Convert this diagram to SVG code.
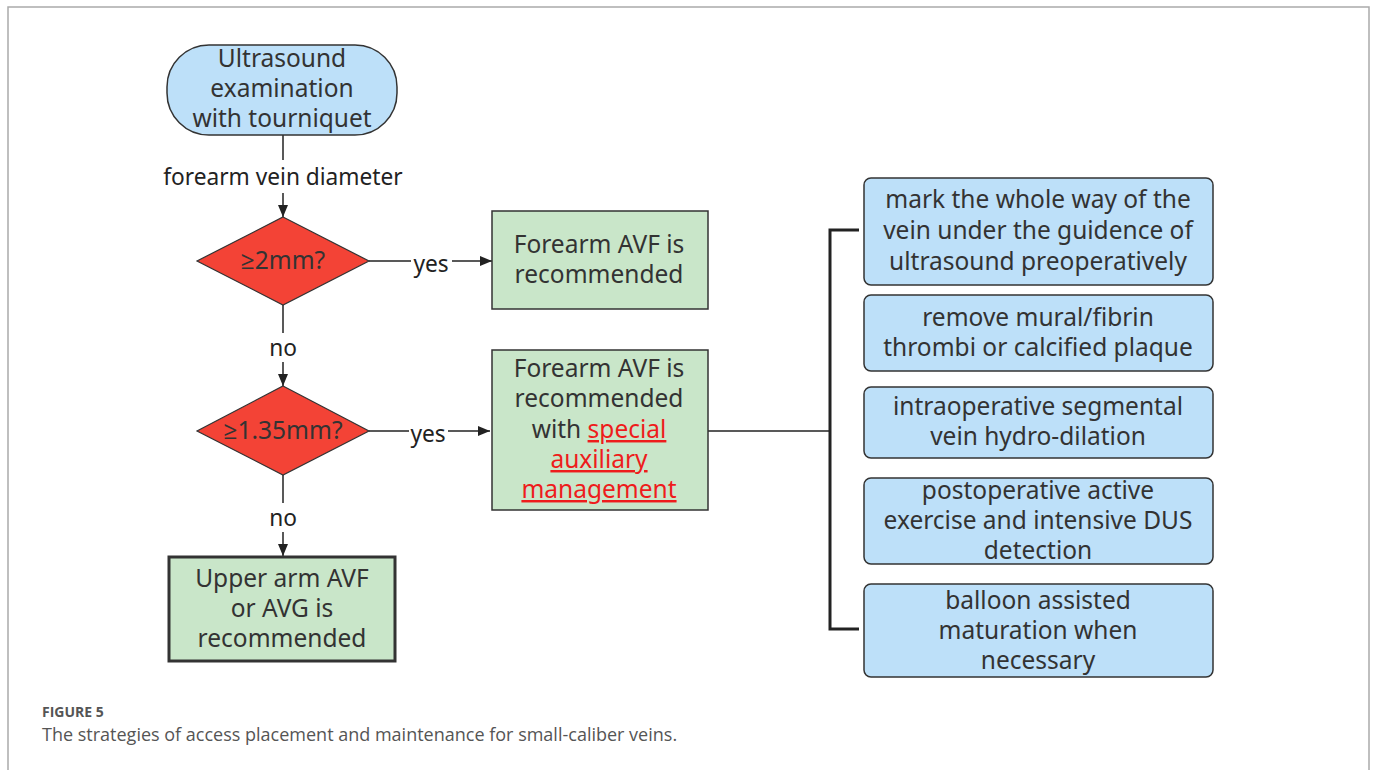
<svg xmlns="http://www.w3.org/2000/svg" width="1375" height="770" viewBox="0 0 1375 770">
<defs>
<marker id="arr" markerWidth="12" markerHeight="10" refX="12" refY="5" orient="auto" markerUnits="userSpaceOnUse">
<path d="M0,0 L12,5 L0,10 Z" fill="#222"/>
</marker>
<style>
.t{font-family:"Noto Sans","Open Sans","Liberation Sans",sans-serif;font-size:24.5px;fill:#333;text-anchor:middle}
.lbl{font-family:"Noto Sans","Open Sans","Liberation Sans",sans-serif;font-size:22.7px;fill:#222;text-anchor:middle}
.red{fill:#ee1c1c;text-decoration:underline}
.blue{fill:#bde0f9;stroke:#333;stroke-width:1.5}
.green{fill:#c9e6c9;stroke:#333;stroke-width:1.5}
.thick{stroke-width:3}
.dia{fill:#f34336;stroke:#333;stroke-width:1.2}
.ln{fill:none;stroke:#222;stroke-width:1.5}
.cap{font-family:"Open Sans","Lato","Liberation Sans",sans-serif;fill:#555}
</style>
</defs>
<rect x="0" y="0" width="1375" height="770" fill="#fff"/>
<path d="M8,780 V7 H1369 V780" fill="none" stroke="#aaa" stroke-width="1.5"/>

<g id="connectors">
<line class="ln" x1="283" y1="135" x2="283" y2="160"/>
<line class="ln" x1="283" y1="193" x2="283" y2="217" marker-end="url(#arr)"/>
<line class="ln" x1="369" y1="261" x2="411" y2="261"/>
<line class="ln" x1="452" y1="261" x2="492" y2="261" marker-end="url(#arr)"/>
<line class="ln" x1="283" y1="305" x2="283" y2="333"/>
<line class="ln" x1="283" y1="362" x2="283" y2="386" marker-end="url(#arr)"/>
<line class="ln" x1="369" y1="431" x2="409" y2="431"/>
<line class="ln" x1="448" y1="431" x2="490" y2="431" marker-end="url(#arr)"/>
<line class="ln" x1="283" y1="475" x2="283" y2="503"/>
<line class="ln" x1="283" y1="532" x2="283" y2="556" marker-end="url(#arr)"/>
<line class="ln" x1="708" y1="431" x2="830" y2="431"/>
<path d="M859,230 H830 V629 H859" fill="none" stroke="#222" stroke-width="3"/>
<text class="lbl" x="283" y="185">forearm vein diameter</text>
<text class="lbl" x="431" y="272">yes</text>
<text class="lbl" x="283" y="356">no</text>
<text class="lbl" x="428" y="442">yes</text>
<text class="lbl" x="283" y="526">no</text>
</g>

<g id="start">
<rect class="blue" x="167" y="45" width="230" height="90" rx="42" ry="42"/>
<text class="t" x="282" y="67">Ultrasound</text>
<text class="t" x="282" y="97">examination</text>
<text class="t" x="282" y="127">with tourniquet</text>
</g>

<g id="dec1">
<polygon class="dia" points="283,217 369,261 283,305 197,261"/>
<text class="t" x="283" y="269">≥2mm?</text>
</g>

<g id="res1">
<rect class="green" x="492" y="211" width="216" height="98"/>
<text class="t" x="599" y="253">Forearm AVF is</text>
<text class="t" x="599" y="283">recommended</text>
</g>

<g id="dec2">
<polygon class="dia" points="283,386 369,431 283,475 197,431"/>
<text class="t" x="283" y="439">≥1.35mm?</text>
</g>

<g id="res2">
<rect class="green" x="492" y="350" width="216" height="160"/>
<text class="t" x="599" y="377">Forearm AVF is</text>
<text class="t" x="599" y="407">recommended</text>
<text class="t" x="599" y="438">with <tspan class="red">special</tspan></text>
<text class="t red" x="599" y="468">auxiliary</text>
<text class="t red" x="599" y="498">management</text>
</g>

<g id="res3">
<rect class="green thick" x="169" y="557" width="226" height="104"/>
<text class="t" x="282" y="587">Upper arm AVF</text>
<text class="t" x="282" y="617">or AVG is</text>
<text class="t" x="282" y="647">recommended</text>
</g>

<g id="s1">
<rect class="blue" x="864" y="178" width="349" height="107" rx="7"/>
<text class="t" x="1038" y="208">mark the whole way of the</text>
<text class="t" x="1038" y="239">vein under the guidence of</text>
<text class="t" x="1038" y="270">ultrasound preoperatively</text>
</g>
<g id="s2">
<rect class="blue" x="864" y="295" width="349" height="76" rx="7"/>
<text class="t" x="1038" y="326">remove mural/fibrin</text>
<text class="t" x="1038" y="356">thrombi or calcified plaque</text>
</g>
<g id="s3">
<rect class="blue" x="864" y="387" width="349" height="71" rx="7"/>
<text class="t" x="1038" y="415">intraoperative segmental</text>
<text class="t" x="1038" y="445">vein hydro-dilation</text>
</g>
<g id="s4">
<rect class="blue" x="864" y="478" width="349" height="86" rx="7"/>
<text class="t" x="1038" y="499">postoperative active</text>
<text class="t" x="1038" y="529">exercise and intensive DUS</text>
<text class="t" x="1038" y="559">detection</text>
</g>
<g id="s5">
<rect class="blue" x="864" y="584" width="349" height="93" rx="7"/>
<text class="t" x="1038" y="609">balloon assisted</text>
<text class="t" x="1038" y="639">maturation when</text>
<text class="t" x="1038" y="669">necessary</text>
</g>

<text class="cap" x="42" y="717" font-size="14" font-weight="bold">FIGURE 5</text>
<text class="cap" x="42" y="741" font-size="18">The strategies of access placement and maintenance for small-caliber veins.</text>
</svg>
